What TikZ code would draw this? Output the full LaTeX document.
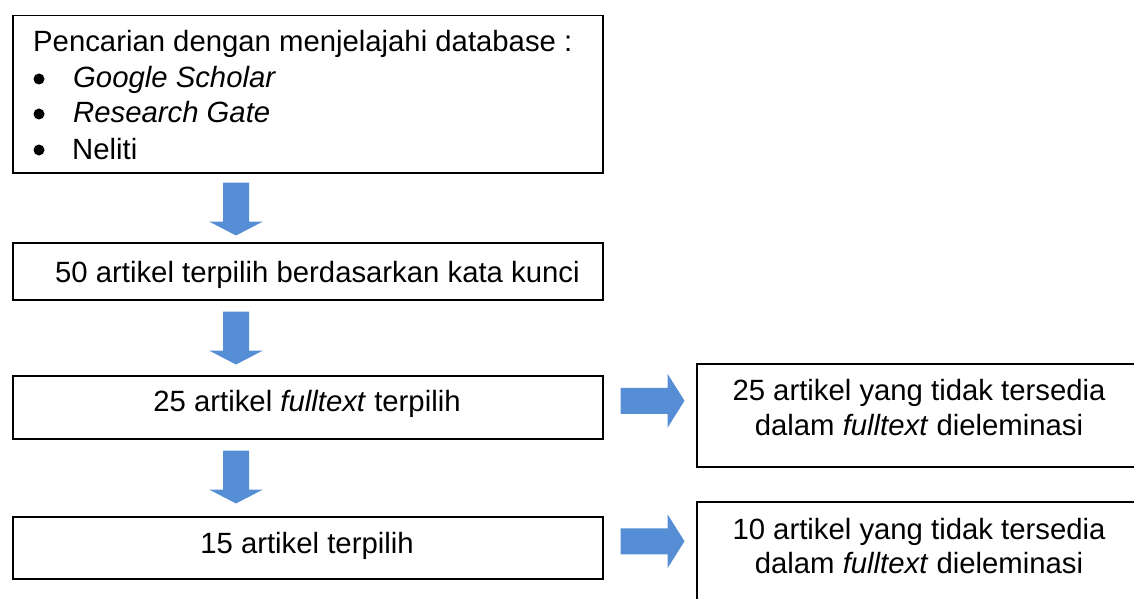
\documentclass[tikz,border=0pt]{standalone}
\usepackage{fontspec}
\setmainfont{Liberation Sans}
\usetikzlibrary{calc}
\definecolor{arrowblue}{RGB}{85,142,213}
\tikzset{
  box/.style={draw=black, line width=1.5pt, fill=white, anchor=north west, inner sep=0pt},
  txt/.style={inner sep=0pt, font=\fontsize{29.3}{35}\selectfont},
  bulletdot/.style={fill=black},
  downarr/.pic={\fill[arrowblue] (-13,0) -- (13,0) -- (13,39) -- (27,39) -- (0,53) -- (-27,39) -- (-13,39) -- cycle;},
  rightarr/.pic={\fill[arrowblue] (0,-13) -- (47,-13) -- (47,-27) -- (64,0) -- (47,27) -- (47,13) -- (0,13) -- cycle;}
}
\begin{document}
\begin{tikzpicture}[x=1pt,y=-1pt]
\clip (0,0) rectangle (1134,599);
\fill[white] (0,0) rectangle (1134,599);
% boxes
\node[box, minimum width=590pt, minimum height=157pt] (b1) at (12,15) {};
\node[box, minimum width=590pt, minimum height=57pt] (b2) at (12,242) {};
\node[box, minimum width=590pt, minimum height=63pt] (b3) at (12,375) {};
\node[box, minimum width=446pt, minimum height=103pt] (b4) at (696,363) {};
\node[box, minimum width=590pt, minimum height=62pt] (b5) at (12,516) {};
\node[box, minimum width=446pt, minimum height=140pt] (b6) at (696,501) {};
% box 1 text
\node[txt, anchor=base west] (t1) at (33,52) {Pencarian dengan menjelajahi database :};
\fill[bulletdot] (39,79) circle[radius=5.5pt];
\fill[bulletdot] (39,114) circle[radius=5.5pt];
\fill[bulletdot] (39,150) circle[radius=5.5pt];
\node[txt, anchor=base west] (t1a) at (73,88) {\textit{Google Scholar}};
\node[txt, anchor=base west] (t1b) at (73,123) {\textit{Research Gate}};
\node[txt, anchor=base west] (t1c) at (72,159) {Neliti};
% other texts
\node[txt, anchor=base west] (t2) at (55,282) {50 artikel terpilih berdasarkan kata kunci};
\node[txt, anchor=base] (t3) at (307,411) {25 artikel \textit{fulltext} terpilih};
\node[txt, anchor=base] (t5) at (307,553) {15 artikel terpilih};
\node[txt, anchor=base] (t4a) at (919,400) {25 artikel yang tidak tersedia};
\node[txt, anchor=base] (t4b) at (919,435) {dalam \textit{fulltext} dieleminasi};
\node[txt, anchor=base] (t6a) at (919,539) {10 artikel yang tidak tersedia};
\node[txt, anchor=base] (t6b) at (919,573) {dalam \textit{fulltext} dieleminasi};
% arrows
\pic at ($(b1.south west)+(224,9)$) {downarr};
\pic at ($(b2.south west)+(224,11)$) {downarr};
\pic at ($(b3.south west)+(224,11)$) {downarr};
\pic at ($(b3.east)+(17,-6.5)$) {rightarr};
\pic at ($(b5.east)+(17,-6.5)$) {rightarr};
\end{tikzpicture}
\end{document}
